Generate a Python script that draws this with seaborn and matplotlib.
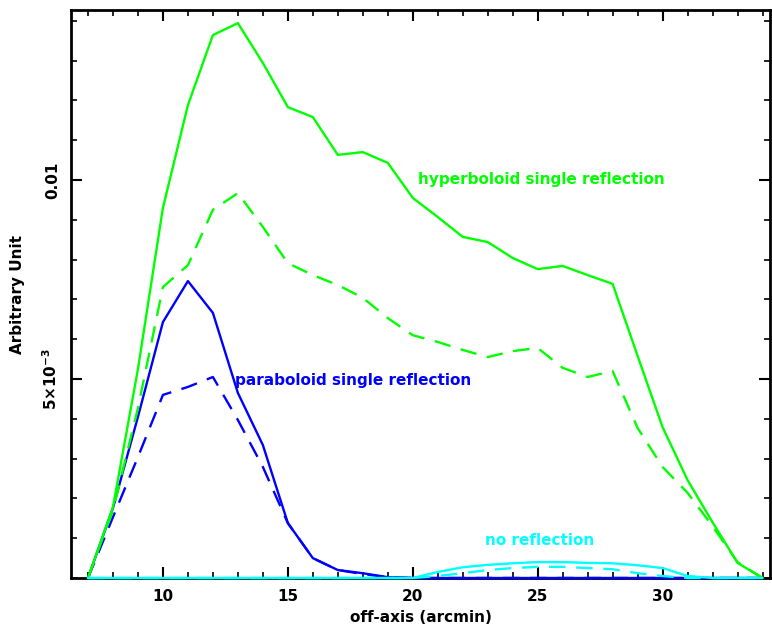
import matplotlib
matplotlib.use("Agg")
import matplotlib.pyplot as plt
from matplotlib.ticker import MultipleLocator, FixedLocator
import seaborn as sns
import pandas as pd

x = list(range(7, 35))
hyper_solid = [0, 0.00178, 0.00525, 0.0093, 0.01188, 0.01364, 0.01394, 0.01294, 0.01183, 0.01158,
               0.01063, 0.0107, 0.01043, 0.00955, 0.00907, 0.00857, 0.00844, 0.00804, 0.00776, 0.00784,
               0.00761, 0.00739, 0.00558, 0.00379, 0.00246, 0.0014, 0.00038, 0.0]
hyper_dash = [0, 0.0017, 0.00427, 0.00731, 0.00786, 0.00925, 0.00967, 0.00882, 0.00791, 0.00761,
              0.00736, 0.00704, 0.00653, 0.0061, 0.00593, 0.00573, 0.00555, 0.0057, 0.00578, 0.00528,
              0.00505, 0.0052, 0.00377, 0.00279, 0.00214, 0.0013, 0.0004, 0.0]
para_solid = [0, 0.00176, 0.00405, 0.00643, 0.00746, 0.00666, 0.00465, 0.00334, 0.00138, 0.0005,
              0.0002, 0.00012, 0.00002, 0, 0, 0, 0, 0, 0, 0,
              0, 0, 0, 0, 0, 0, 0, 0]
para_dash = [0, 0.00153, 0.00304, 0.0046, 0.0048, 0.00505, 0.00397, 0.00279, 0.00138, 0.0005,
             0.0002, 0.0001, 0.00002, 0, 0, 0, 0, 0, 0, 0,
             0, 0, 0, 0, 0, 0, 0, 0]
none_solid = [0, 0, 0, 0, 0, 0, 0, 0, 0, 0,
              0, 0, 0, 0, 0.00015, 0.00027, 0.00033, 0.00037, 0.0004, 0.0004,
              0.00038, 0.00037, 0.00032, 0.00025, 0.00005, 0, 0, 0]
none_dash = [0, 0, 0, 0, 0, 0, 0, 0, 0, 0,
             0, 0, 0, 0, 0.00005, 0.00012, 0.0002, 0.00025, 0.00028, 0.00028,
             0.00025, 0.00022, 0.00012, 0.00005, 0, 0, 0, 0]

labels = ["hyperboloid single reflection", "paraboloid single reflection", "no reflection"]
x_ticks = [10, 15, 20, 25, 30]
y_ticks = [0.005, 0.01]
y_ticklabels = [r"$\mathbf{5{\times}10^{-3}}$", "0.01"]

sns.set_style("white")
plt.rcParams["font.family"] = ["DejaVu Sans"]
plt.rcParams["mathtext.fontset"] = "dejavusans"
plt.rcParams["text.color"] = "black"
plt.rcParams["axes.labelcolor"] = "black"
plt.rcParams["xtick.color"] = "black"
plt.rcParams["ytick.color"] = "black"

fig = plt.figure(figsize=(7.72, 6.3), dpi=100)
ax = fig.add_axes([71 / 772, 52 / 630, 699 / 772, 568 / 630])

GREEN, BLUE, CYAN = "#00ff00", "#0000ff", "#00ffff"
lw = 1.7
dash = (7, 4.5)

series = [
    (para_solid, BLUE, None),
    (para_dash, BLUE, dash),
    (hyper_solid, GREEN, None),
    (hyper_dash, GREEN, dash),
    (none_dash, CYAN, dash),
    (none_solid, CYAN, None),
]
for ys, col, ds in series:
    df = pd.DataFrame({"x": x, "y": ys})
    sns.lineplot(data=df, x="x", y="y", ax=ax, color=col, linewidth=lw)
    ln = ax.lines[-1]
    ln.set_zorder(3)
    ln.set_clip_on(False)
    if ds is not None:
        ln.set_dashes(ds)

ax.set_xlim(6.32, 34.3)
ax.set_ylim(0, 0.01427)

ax.xaxis.set_major_locator(FixedLocator(x_ticks))
ax.xaxis.set_minor_locator(MultipleLocator(1))
ax.yaxis.set_major_locator(FixedLocator(y_ticks))
ax.yaxis.set_minor_locator(MultipleLocator(0.001))
ax.set_xticklabels([str(t) for t in x_ticks], fontsize=11, fontweight="bold", color="black")
ax.set_yticklabels(y_ticklabels, fontsize=11, fontweight="bold", rotation=90, va="center", color="black")

ax.tick_params(which="major", direction="in", length=8, width=1.5, top=True, right=True,
               bottom=True, left=True, pad=8, colors="black")
ax.tick_params(which="minor", direction="in", length=4, width=1.2, top=True, right=True,
               bottom=True, left=True, colors="black")

for s in ax.spines.values():
    s.set_color("black")
    s.set_linewidth(2)

ax.set_xlabel("off-axis (arcmin)", fontsize=11, fontweight="bold", labelpad=4, color="black")
ax.set_ylabel("Arbitrary Unit", fontsize=11, fontweight="bold", labelpad=12, color="black")

ax.text(20.2, 0.0100, labels[0], color=GREEN, fontsize=11, fontweight="bold", va="center", ha="left")
ax.text(12.88, 0.00497, labels[1], color=BLUE, fontsize=11, fontweight="bold", va="center", ha="left")
ax.text(22.88, 0.00095, labels[2], color=CYAN, fontsize=11, fontweight="bold", va="center", ha="left")

fig.savefig("out.png", dpi=100)
